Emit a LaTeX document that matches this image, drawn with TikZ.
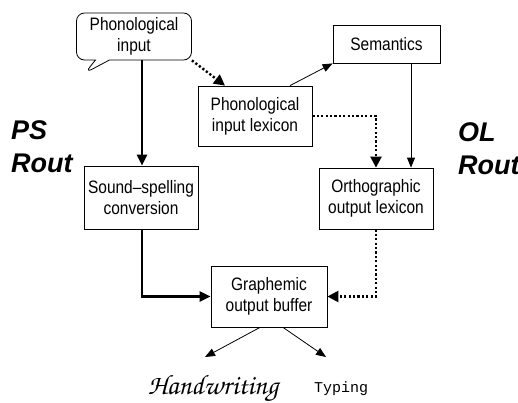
\documentclass[tikz,border=0pt]{standalone}
\usepackage{fontspec}
\setmainfont{Liberation Sans}[FakeStretch=0.86]
\newfontfamily\routfont{Liberation Sans}
\newfontfamily\typefont{Liberation Mono}
\newfontfamily\handfont{texgyrechorus-mediumitalic.otf}
\usetikzlibrary{shapes.callouts,arrows.meta}
\tikzset{
  box/.style={draw, line width=0.8pt, align=center, font=\fontsize{18}{21}\selectfont, inner sep=0pt},
  thickarrow/.style={line width=2.4pt, -{Triangle[length=11pt,width=10pt]}},
  thinarrow/.style={line width=0.8pt, -{Triangle[length=10pt,width=8pt]}},
  dotarrow/.style={line width=2.4pt, dash pattern=on 2.2pt off 2.2pt, -{Triangle[length=11pt,width=11pt]}},
  routlabel/.style={font=\routfont\bfseries\itshape\fontsize{27}{33}\selectfont, align=left, inner sep=0pt, anchor=north west},
}
\begin{document}
\begin{tikzpicture}[x=1pt,y=-1pt]
\useasboundingbox (0,0) rectangle (518,402);
\node[box, rectangle callout, rounded corners=8pt, minimum width=115pt, minimum height=47pt,
      callout absolute pointer={(85,73)}, callout pointer width=14pt] (pi) at (134,36.5) {Phonological\\input};
\node[box, minimum width=114pt, minimum height=63pt] (ss) at (141,197.5) {Sound--spelling\\conversion};
\node[box, minimum width=114pt, minimum height=60pt] (pil) at (255,116) {Phonological\\input lexicon};
\node[box, minimum width=107pt, minimum height=38pt] (sem) at (386.5,44) {Semantics};
\node[box, minimum width=114pt, minimum height=61pt] (ool) at (376,198.5) {Orthographic\\output lexicon};
\node[box, minimum width=116pt, minimum height=61pt] (gob) at (269,296.5) {Graphemic\\output buffer};
\node[routlabel] (ps) at (11,120) {PS\\Rout};
\node[routlabel] (ol) at (458,122) {OL\\Rout};
\node[font=\handfont\fontsize{28}{30}\selectfont, anchor=base, inner sep=0pt] (hw) at (213,394) {Handwriting};
\node[font=\typefont\fontsize{15}{17}\selectfont, anchor=base, inner sep=0pt] (ty) at (341,392) {Typing};
\coordinate (hwend) at (205,357);
\coordinate (tyend) at (326,357);
% connectors
\draw[thickarrow] (pi.south -| ss.north) ++(1,0) -- ([xshift=1pt]ss.north);
\draw[dotarrow] (pi.south east) -- ([xshift=-30pt]pil.north);
\draw[thinarrow] ([xshift=35pt]pil.north) -- (sem.south west);
\draw[thinarrow] ([xshift=24.5pt]sem.south) -- ([xshift=35pt]ool.north);
\draw[dotarrow] (pil.east) -| (ool.north);
\draw[thickarrow] ([xshift=1pt]ss.south) |- (gob.west);
\draw[dotarrow] (ool.south) |- (gob.east);
\draw[thinarrow] ([xshift=14pt]gob.south) -- (tyend);
\draw[thinarrow] ([xshift=-9pt]gob.south) -- (hwend);
\end{tikzpicture}
\end{document}
